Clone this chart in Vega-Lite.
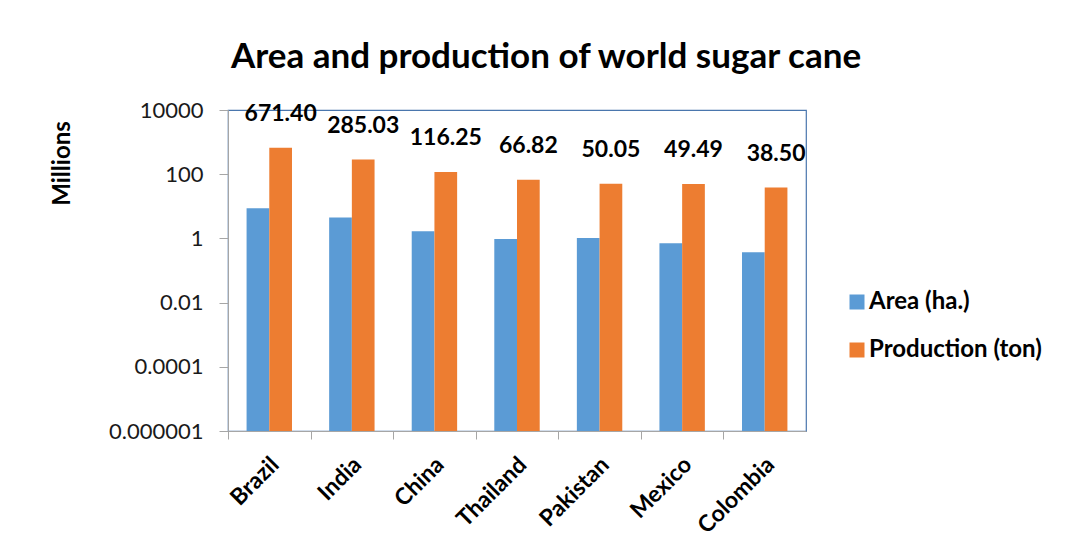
{
  "$schema": "https://vega.github.io/schema/vega-lite/v6.json",
  "width": 578,
  "height": 321,
  "autosize": "none",
  "padding": {"left": 228, "top": 110, "right": 271, "bottom": 124},
  "background": "white",
  "title": {
    "text": "Area and production of world sugar cane",
    "font": "Lato",
    "fontSize": 35,
    "fontWeight": "bold",
    "color": "#000000",
    "anchor": "middle",
    "dx": 29,
    "offset": 24
  },
  "config": {
    "view": {"stroke": "#4a76ad", "strokeWidth": 1.2},
    "font": "Lato",
    "axis": {"grid": false, "domainColor": "#a6a6a6", "tickColor": "#a6a6a6", "labelColor": "#1a1a1a", "titleColor": "#000000"}
  },
  "data": {
    "values": [
      {"country": "Brazil", "series": "Area (ha.)", "value": 8.7},
      {"country": "Brazil", "series": "Production (ton)", "value": 671.40},
      {"country": "India", "series": "Area (ha.)", "value": 4.5},
      {"country": "India", "series": "Production (ton)", "value": 285.03},
      {"country": "China", "series": "Area (ha.)", "value": 1.66},
      {"country": "China", "series": "Production (ton)", "value": 116.25},
      {"country": "Thailand", "series": "Area (ha.)", "value": 0.96},
      {"country": "Thailand", "series": "Production (ton)", "value": 66.82},
      {"country": "Pakistan", "series": "Area (ha.)", "value": 1.02},
      {"country": "Pakistan", "series": "Production (ton)", "value": 50.05},
      {"country": "Mexico", "series": "Area (ha.)", "value": 0.71},
      {"country": "Mexico", "series": "Production (ton)", "value": 49.49},
      {"country": "Colombia", "series": "Area (ha.)", "value": 0.37},
      {"country": "Colombia", "series": "Production (ton)", "value": 38.50}
    ]
  },
  "encoding": {
    "x": {
      "field": "country",
      "type": "nominal",
      "sort": null,
      "scale": {"paddingInner": 0.45, "paddingOuter": 0.225},
      "axis": {
        "title": null,
        "labelAngle": -45,
        "labelAlign": "right",
        "labelBaseline": "top",
        "labelFontSize": 23,
        "labelFontWeight": "bold",
        "labelColor": "#000000",
        "tickSize": 8,
        "tickOffset": -41.29,
        "labelOffset": 39,
        "labelPadding": 14
      }
    },
    "xOffset": {"field": "series", "type": "nominal", "sort": ["Area (ha.)", "Production (ton)"], "scale": {"paddingInner": 0, "paddingOuter": 0}},
    "y": {
      "field": "value",
      "type": "quantitative",
      "scale": {"type": "log", "domain": [0.000001, 10000]},
      "axis": {
        "title": "Millions",
        "titleFontSize": 24,
        "titleFontWeight": "bold",
        "titleX": -166,
        "titleY": 53,
        "titleAlign": "center",
        "titleBaseline": "middle",
        "titleAngle": -90,
        "values": [0.000001, 0.0001, 0.01, 1, 100, 10000],
        "format": "~f",
        "labelFontSize": 22,
        "tickSize": 9,
        "labelPadding": 16
      }
    }
  },
  "layer": [
    {
      "mark": {"type": "bar"},
      "encoding": {
        "y2": {"datum": 0.000001},
        "color": {
          "field": "series",
          "type": "nominal",
          "scale": {"domain": ["Area (ha.)", "Production (ton)"], "range": ["#5b9bd5", "#ed7d31"]},
          "legend": {
            "title": null,
            "orient": "none",
            "legendX": 617,
            "legendY": 180,
            "symbolType": "square",
            "symbolSize": 225,
            "symbolStrokeWidth": 0,
            "labelFontSize": 24,
            "labelFontWeight": "bold",
            "labelColor": "#000000",
            "labelOffset": 0,
            "labelLimit": 400,
            "rowPadding": 24
          }
        }
      }
    },
    {
      "transform": [{"filter": "datum.series === 'Production (ton)'"}],
      "mark": {"type": "text", "dy": -34, "fontSize": 23, "fontWeight": "bold", "color": "#000000", "baseline": "middle"},
      "encoding": {
        "text": {"field": "value", "type": "quantitative", "format": ".2f"}
      }
    }
  ]
}
